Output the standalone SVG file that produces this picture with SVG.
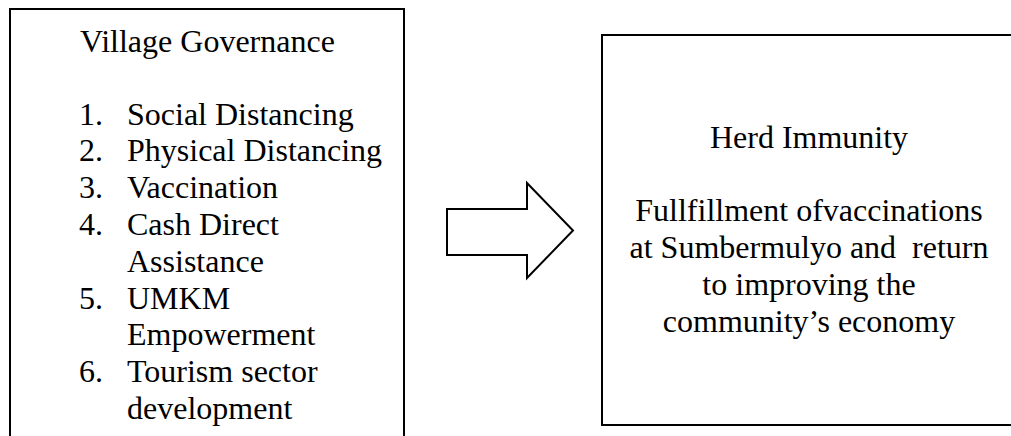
<svg xmlns="http://www.w3.org/2000/svg" width="1011" height="436" viewBox="0 0 1011 436">
<style>
.box{fill:#fff;stroke:#000;stroke-width:2}
.t{font-family:"Liberation Serif","Times New Roman",serif;font-size:32px;fill:#000}
.c{text-anchor:middle}
</style>
<rect width="1011" height="436" fill="#fff"/>
<g id="village-governance">
<path class="box" d="M10,450 L10,9 L404,9 L404,450"/>
<text class="t" x="80" y="52">Village Governance</text>
<text class="t" x="79" y="124.5">1.</text><text class="t" x="127" y="124.5">Social Distancing</text>
<text class="t" x="79" y="161.3">2.</text><text class="t" x="127" y="161.3">Physical Distancing</text>
<text class="t" x="79" y="198.1">3.</text><text class="t" x="127" y="198.1">Vaccination</text>
<text class="t" x="79" y="234.9">4.</text><text class="t" x="127" y="234.9">Cash Direct</text>
<text class="t" x="127" y="271.7">Assistance</text>
<text class="t" x="79" y="308.5">5.</text><text class="t" x="127" y="308.5">UMKM</text>
<text class="t" x="127" y="345.3">Empowerment</text>
<text class="t" x="79" y="382.1">6.</text><text class="t" x="127" y="382.1">Tourism sector</text>
<text class="t" x="127" y="418.9">development</text>
</g>
<g id="connectors">
<polygon points="447,209 527,209 527,183 573,230.5 527,278 527,255 447,255" fill="#fff" stroke="#000" stroke-width="2" stroke-linejoin="miter"/>
</g>
<g id="herd-immunity">
<rect class="box" x="602" y="35" width="414" height="390"/>
<text class="t c" x="809" y="148">Herd Immunity</text>
<text class="t c" x="809" y="221">Fullfillment ofvaccinations</text>
<text class="t c" x="809" y="258" style="white-space:pre">at Sumbermulyo and  return</text>
<text class="t c" x="809" y="295">to improving the</text>
<text class="t c" x="809" y="332">community’s economy</text>
</g>
</svg>
